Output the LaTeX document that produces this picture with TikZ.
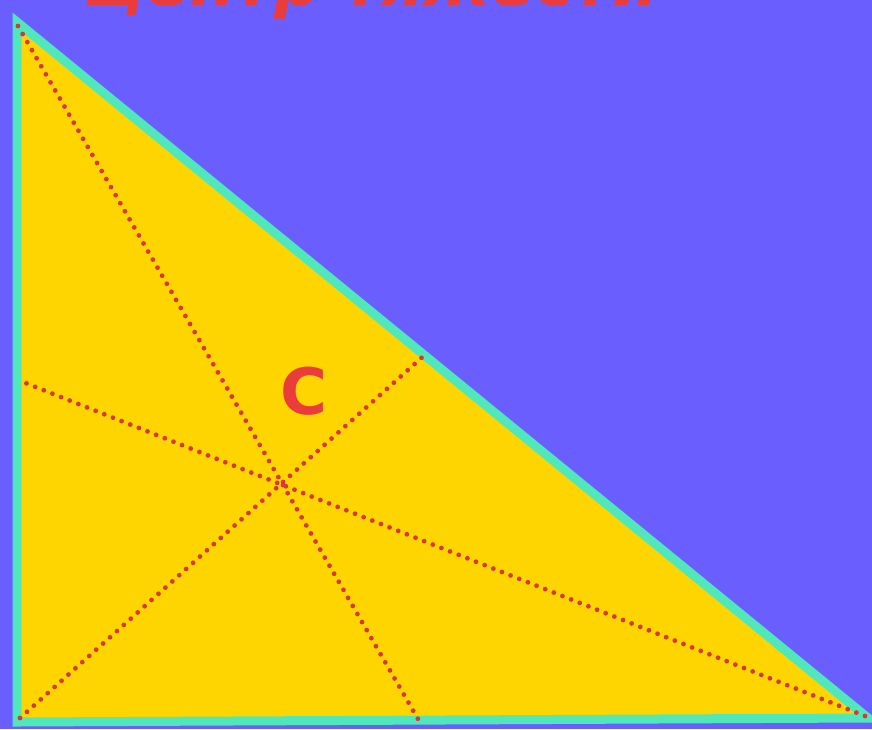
\documentclass[tikz,border=0pt]{standalone}
\usepackage{fontspec}
\setmainfont{DejaVu Sans}
\definecolor{bgc}{RGB}{107,94,255}
\definecolor{fillc}{RGB}{255,213,0}
\definecolor{edgec}{RGB}{80,232,186}
\definecolor{redc}{RGB}{235,60,60}
\tikzset{
  median/.style={draw=redc!92!black, line width=4.8pt, line cap=round, dash pattern=on 0pt off 9.3pt},
  tri/.style={fill=fillc, draw=edgec, line width=9pt, line join=miter},
  lbl/.style={text=redc, font=\bfseries\fontsize{64}{64}\selectfont, inner sep=0pt}
}
\begin{document}
\begin{tikzpicture}[x=1pt,y=-1pt]
\useasboundingbox (0,0) rectangle (872,729);
\clip (0,0) rectangle (872,729);
\fill[bgc] (0,0) rectangle (872,729);
% triangle
\coordinate (A) at (17,22);
\coordinate (B) at (17,722);
\coordinate (Cc) at (868,718);
\path[tri] (A) -- (B) -- (Cc) -- cycle;
% median endpoints
\coordinate (A1) at (18,26);
\coordinate (B1) at (20,718);
\coordinate (C1) at (865,716);
\coordinate (MA) at (418,719);
\coordinate (MB) at (428,352);
\coordinate (MC) at (18,380);
\draw[median] (A1) -- (MA);
\draw[median] (B1) -- (MB);
\draw[median] (C1) -- (MC);
% label
\node[lbl] (lab) at (304,391) {C};
% clipped title
\node[text=redc, font=\bfseries\itshape\fontsize{66}{66}\selectfont, anchor=base west, inner sep=0pt] (title) at (84,5) {Центр тяжести};
\end{tikzpicture}
\end{document}
